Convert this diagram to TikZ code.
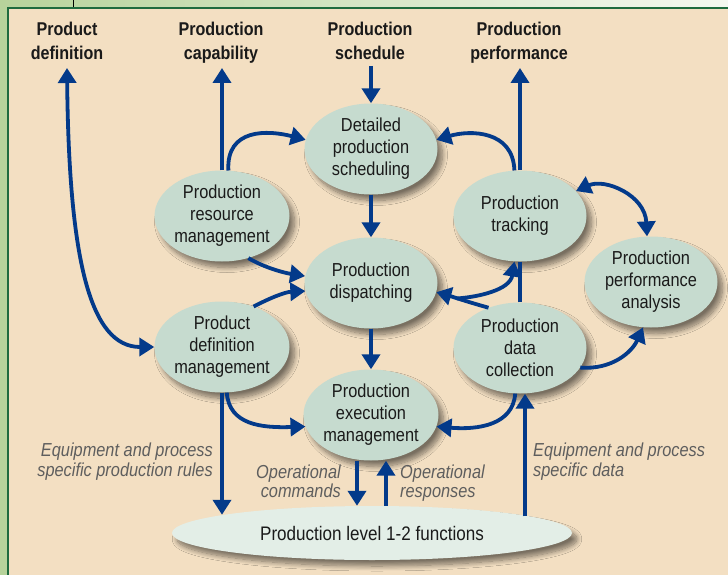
\documentclass[tikz,border=0pt]{standalone}
\usepackage{fontspec}
\setmainfont{Liberation Sans}[FakeStretch=0.87]
\usetikzlibrary{shapes.geometric,arrows.meta,shadows.blur}
\definecolor{bgc}{HTML}{F3DFC2}
\definecolor{outg}{HTML}{B7D39B}
\definecolor{bord}{HTML}{1F6B3E}
\definecolor{ellc}{HTML}{C6DBCF}
\definecolor{botc}{HTML}{E3EEE7}
\definecolor{arr}{HTML}{033A8A}
\definecolor{txtc}{HTML}{1A1A1A}
\definecolor{notec}{HTML}{5E5E5E}
\begin{document}
\begin{tikzpicture}[x=1pt,y=-1pt,
  shad/.style={blur shadow={shadow xshift=5pt, shadow yshift=-6pt, shadow blur steps=10, shadow blur radius=5pt, shadow opacity=50}},
  proc/.style={ellipse, fill=ellc, minimum width=133pt, minimum height=91pt, inner sep=0pt, align=center, text=txtc, font=\fontsize{18.8}{22}\selectfont, shad},
  botnode/.style={ellipse, fill=botc, minimum width=400pt, minimum height=54pt, inner sep=0pt, text=txtc, font=\fontsize{19.6}{22}\selectfont, shad},
  toplab/.style={font=\bfseries\fontsize{18.5}{24.5}\selectfont, align=center, inner sep=0pt, text=txtc, anchor=north},
  note/.style={font=\itshape\fontsize{18.8}{19.5}\selectfont, text=notec, inner sep=0pt},
  link/.style={draw=arr, line width=3.8pt},
  flow/.style={link, -{Triangle[length=15pt,width=18pt]}},
  dflow/.style={link, {Triangle[length=15pt,width=18pt]}-{Triangle[length=15pt,width=18pt]}}
]
\useasboundingbox (0,0) rectangle (728,575);
% background and frame
\fill[outg] (0,0) rectangle (728,575);
\shade[left color=outg, right color=outg!15!white] (0,0) rectangle (728,8);
\fill[bgc] (8,8) rectangle (728,575);
\draw[bord, line width=2.5pt] (8,575) -- (8,8) -- (728,8);
\draw[black, line width=0.8pt] (73,0) -- (73,7);

% top labels
\node[toplab] (lpd) at (67,21.5) {Product\\definition};
\node[toplab] (lcap) at (221,21.5) {Production\\capability};
\node[toplab] (lsch) at (370,21.5) {Production\\schedule};
\node[toplab] (lperf) at (519,21.5) {Production\\performance};
\coordinate (tpd) at (67,68);
\coordinate (tcap) at (221,68);
\coordinate (tsch) at (371,66);
\coordinate (tperf) at (520,68);

% process nodes
\node[proc] (dps) at (371,149) {Detailed\\production\\scheduling};
\node[proc] (prm) at (222,216) {Production\\resource\\management};
\node[proc] (disp) at (371,283) {Production\\dispatching};
\node[proc] (pdm) at (222,347) {Product\\definition\\management};
\node[proc] (pem) at (371,415) {Production\\execution\\management};
\node[proc] (trk) at (520,216) {Production\\tracking};
\node[proc] (pdc) at (520,348) {Production\\data\\collection};
\node[proc] (ppa) at (651,282) {Production\\performance\\analysis};
\node[botnode] (bot) at (372,533) {Production level 1-2 functions};

% notes
\node[note, anchor=north east, align=right] (n1) at (213,443) {Equipment and process\\specific production rules};
\node[note, anchor=north east, align=right] (n2) at (341,464.5) {Operational\\commands};
\node[note, anchor=north west, align=left] (n3) at (400,464.5) {Operational\\responses};
\node[note, anchor=north west, align=left] (n4) at (533,443) {Equipment and process\\specific data};

% connectors
\draw[dflow] (tpd) .. controls (69,260) and (90,347) .. (pdm.west);
\draw[flow] (prm.north) -- (prm.north |- tcap);
\draw[flow] (prm.82) .. controls (226,128) and (268,130) .. (dps.172);
\draw[flow] (tsch) -- (dps.north);
\draw[flow] (dps.south) -- (disp.north);
\draw[flow] (prm.-58) .. controls (265,268) and (285,273) .. (disp.174);
\draw[flow] (pdm.52) .. controls (270,298) and (285,292) .. (disp.187);
\draw[flow] (disp.south) -- (pem.north);
\draw[flow] (pdm.-84) .. controls (229,425) and (262,428) .. (pem.190);
\draw[flow] (pdm.south) -- (pdm.south |- bot.173);
\draw[flow] ([xshift=-14pt]pem.south) -- ([xshift=-14pt]pem.south |- bot.north);
\draw[flow] ([xshift=15pt]pem.south |- bot.north) -- ([xshift=15pt]pem.south);
\draw[flow] ([xshift=5pt]pdc.south |- bot.6.5) -- ([xshift=5pt]pdc.south);
\draw[flow] (pdc.-96) .. controls (513,425) and (478,430) .. (pem.-10);
\draw[flow] (pdc.128) .. controls (468,302) and (450,296) .. coordinate[pos=0.55] (br) (disp.-8);
\draw[flow] (br) .. controls (478,297) and (510,290) .. (trk.-97);
\draw[link] (pdc.north) -- (trk.south);
\draw[flow] (trk.north) -- (tperf);
\draw[flow] (trk.97) .. controls (513,130) and (470,130) .. (dps.8);
\draw[dflow] (trk.24) .. controls (605,178) and (645,195) .. (ppa.95);
\draw[flow] (pdc.-18) .. controls (612,370) and (632,352) .. (ppa.-100);
\end{tikzpicture}
\end{document}
